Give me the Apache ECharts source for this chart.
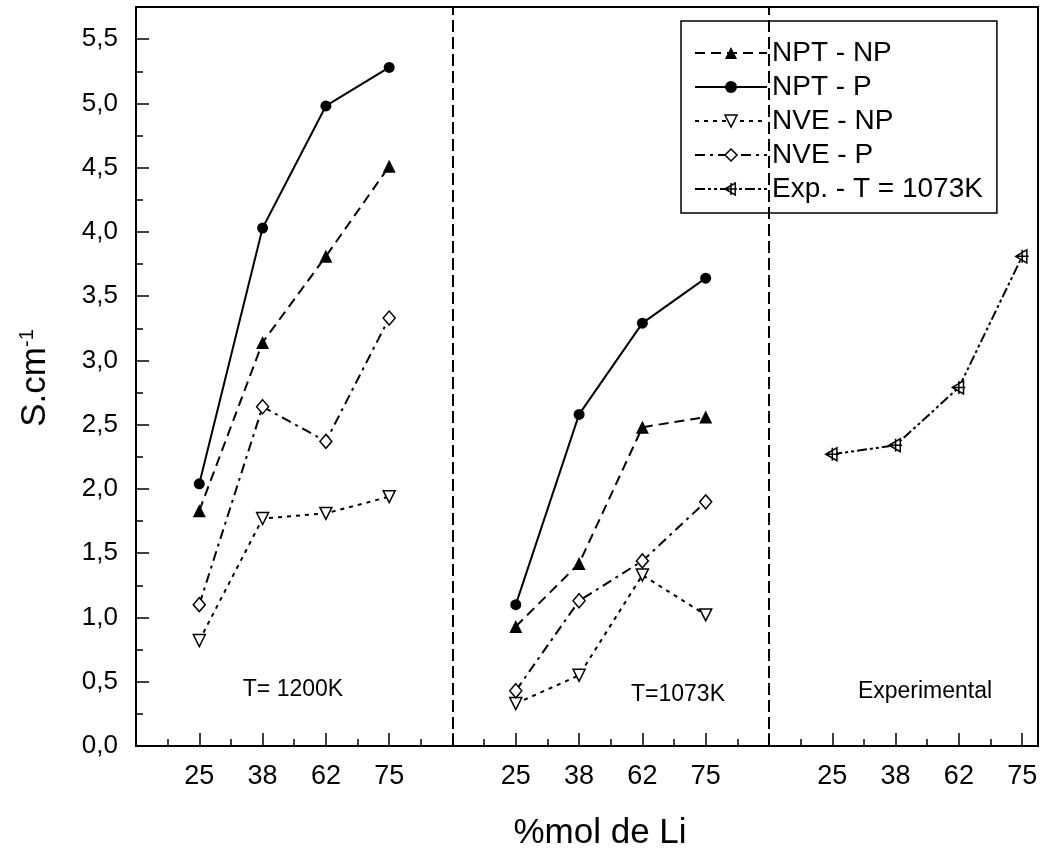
<!DOCTYPE html>
<html><head><meta charset="utf-8">
<script src="https://cdn.jsdelivr.net/npm/echarts@6/dist/echarts.min.js"></script>
<style>html,body{margin:0;padding:0;background:#fff}#c{width:1047px;height:862px}</style>
</head><body><div id="c"></div>
<script>
// ---- data ----
const categories = ['25', '38', '62', '75'];
const panelNames = ['T= 1200K', 'T=1073K', 'Experimental'];
const seriesNames = ['NPT - NP', 'NPT - P', 'NVE - NP', 'NVE - P', 'Exp. - T = 1073K'];
// panel 1 : T = 1200K
const nptNp1200 = [1.83, 3.14, 3.81, 4.51];
const nptP1200  = [2.04, 4.03, 4.98, 5.28];
const nveNp1200 = [0.82, 1.77, 1.81, 1.94];
const nveP1200  = [1.10, 2.64, 2.37, 3.33];
// panel 2 : T = 1073K
const nptNp1073 = [0.93, 1.42, 2.48, 2.56];
const nptP1073  = [1.10, 2.58, 3.29, 3.64];
const nveNp1073 = [0.33, 0.55, 1.33, 1.02];
const nveP1073  = [0.43, 1.13, 1.44, 1.90];
// panel 3 : experimental
const exp1073   = [2.27, 2.34, 2.79, 3.81];

const FONT = 'Liberation Sans, Arial, sans-serif';
const PANEL_STEP = 5;           // category slots per panel (4 + separator)
const X_MAX = 14.25, Y_MAX = 5.75;

function pts(arr, panel) { return arr.map((v, i) => [panel * PANEL_STEP + i + 1, v]); }

const expPath = 'path://M0,6L12,0L12,12Z M7,0L7,12 M0,6L14,6';
const hollow = { color: '#fff', borderColor: '#000', borderWidth: 1.5 };
const styles = {
  'NPT - NP': { symbol: 'triangle', symbolSize: 13, symbolRotate: 0, itemStyle: { color: '#000' }, lineStyle: { color: '#000', width: 2, type: [10, 6] } },
  'NPT - P':  { symbol: 'circle', symbolSize: 11, symbolRotate: 0, itemStyle: { color: '#000' }, lineStyle: { color: '#000', width: 2, type: 'solid' } },
  'NVE - NP': { symbol: 'triangle', symbolSize: 12, symbolRotate: 180, itemStyle: hollow, lineStyle: { color: '#000', width: 2, type: [4, 5] } },
  'NVE - P':  { symbol: 'diamond', symbolSize: [12, 14], symbolRotate: 0, itemStyle: hollow, lineStyle: { color: '#000', width: 2, type: [10, 5, 3, 5] } },
  'Exp. - T = 1073K': { symbol: expPath, symbolSize: 13, symbolRotate: 0, itemStyle: hollow, lineStyle: { color: '#000', width: 2, type: [10, 3, 3, 3, 3, 3] } }
};

function mk(name, arr, panel, extra) {
  const s = styles[name];
  return Object.assign({
    name, type: 'line', data: pts(arr, panel), xAxisIndex: 0, yAxisIndex: 0,
    symbol: s.symbol, symbolSize: s.symbolSize, symbolRotate: s.symbolRotate,
    itemStyle: s.itemStyle, lineStyle: s.lineStyle, showSymbol: true, silent: true
  }, extra || {});
}

const series = [
  mk('NPT - NP', nptNp1200, 0), mk('NPT - NP', nptNp1073, 1),
  mk('NPT - P', nptP1200, 0),   mk('NPT - P', nptP1073, 1),
  mk('NVE - NP', nveNp1200, 0), mk('NVE - NP', nveNp1073, 1),
  mk('NVE - P', nveP1200, 0),   mk('NVE - P', nveP1073, 1),
  mk('Exp. - T = 1073K', exp1073, 2, {
    markLine: {
      silent: true, symbol: ['none', 'none'], label: { show: false },
      lineStyle: { color: '#000', width: 2, type: [12, 5] },
      data: [{ xAxis: PANEL_STEP }, { xAxis: 2 * PANEL_STEP }]
    }
  })
];

const chart = echarts.init(document.getElementById('c'), null, { renderer: 'canvas' });
chart.setOption({
  animation: false,
  backgroundColor: '#fff',
  color: ['#000'],
  grid: { left: 136, top: 7, width: 902, height: 739, show: true, borderColor: '#000', borderWidth: 2, backgroundColor: 'transparent' },
  xAxis: [
    {
      type: 'value', min: 0, max: X_MAX, interval: 1, position: 'bottom',
      axisLine: { show: true, lineStyle: { color: '#000', width: 2 } },
      axisTick: { show: true, inside: true, length: 13, lineStyle: { color: '#000', width: 1.5 } },
      splitLine: { show: false },
      axisLabel: {
        margin: 17, fontSize: 27, fontFamily: FONT, color: '#000', showMinLabel: true, showMaxLabel: true,
        formatter: function (v) {
          const k = Math.round(v);
          if (Math.abs(v - k) > 1e-6) return '';
          const i = k % PANEL_STEP - 1;
          return (i >= 0 && i < categories.length) ? categories[i] : '';
        }
      }
    },
    {
      type: 'value', min: 0, max: X_MAX, interval: 0.5, position: 'bottom',
      axisLine: { show: false },
      axisTick: { show: true, inside: true, length: 7, lineStyle: { color: '#000', width: 1.5 } },
      splitLine: { show: false }, axisLabel: { show: false }
    }
  ],
  yAxis: [
    {
      type: 'value', min: 0, max: Y_MAX, interval: 0.5, position: 'left',
      axisLine: { show: true, lineStyle: { color: '#000', width: 2 } },
      axisTick: { show: true, inside: true, length: 13, lineStyle: { color: '#000', width: 1.5 } },
      splitLine: { show: false },
      axisLabel: {
        margin: 18, fontSize: 26, fontFamily: FONT, color: '#000', showMaxLabel: false,
        formatter: function (v) { return Math.abs(v * 2 - Math.round(v * 2)) > 1e-6 ? '' : v.toFixed(1).replace('.', ','); }
      }
    },
    {
      type: 'value', min: 0, max: Y_MAX, interval: 0.25, position: 'left',
      axisLine: { show: false },
      axisTick: { show: true, inside: true, length: 7, lineStyle: { color: '#000', width: 1.5 } },
      splitLine: { show: false }, axisLabel: { show: false }
    }
  ],
  legend: {
    orient: 'vertical', left: 681, top: 21,
    itemWidth: 72, itemHeight: 15, itemGap: 6,
    padding: [18, 14, 10, 13],
    borderColor: '#000', borderWidth: 1.5, backgroundColor: '#fff',
    textStyle: { fontSize: 28, fontFamily: FONT, color: '#000' },
    data: seriesNames.map(n => ({
      name: n,
      itemStyle: Object.assign({}, styles[n].itemStyle),
      lineStyle: Object.assign({}, styles[n].lineStyle)
    }))
  },
  graphic: [
    {
      type: 'text', x: 35, y: 378, rotation: Math.PI / 2,
      style: {
        text: 'S.cm{sup|-1}', font: '35px ' + FONT, fill: '#000',
        textAlign: 'center', textVerticalAlign: 'middle',
        rich: { sup: { fontSize: 20, fontFamily: FONT, verticalAlign: 'top', fill: '#000', padding: [0, 0, 14, 0] } }
      }
    },
    { type: 'text', x: 600, y: 833, style: { text: '%mol de Li', font: '35px ' + FONT, fill: '#000', textAlign: 'center', textVerticalAlign: 'middle' } },
    { type: 'text', x: 293, y: 690, style: { text: panelNames[0], font: '23px ' + FONT, fill: '#000', textAlign: 'center', textVerticalAlign: 'middle' } },
    { type: 'text', x: 678, y: 695, style: { text: panelNames[1], font: '23px ' + FONT, fill: '#000', textAlign: 'center', textVerticalAlign: 'middle' } },
    { type: 'text', x: 925, y: 692, style: { text: panelNames[2], font: '23px ' + FONT, fill: '#000', textAlign: 'center', textVerticalAlign: 'middle' } }
  ],
  series: series
});
</script>
</body></html>
